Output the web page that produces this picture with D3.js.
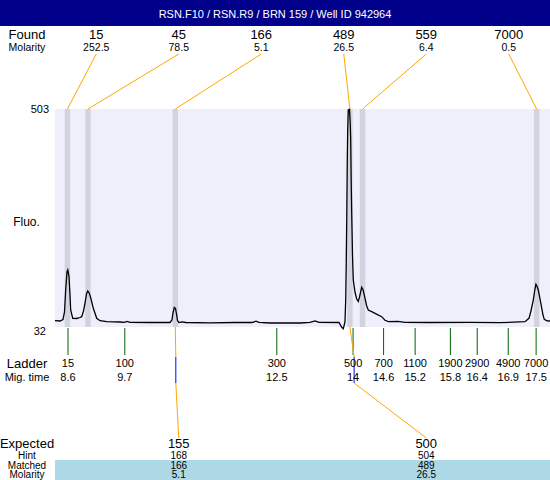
<!DOCTYPE html>
<html>
<head>
<meta charset="utf-8">
<script src="https://cdn.jsdelivr.net/npm/d3@7"></script>
<style>
  html, body { margin: 0; padding: 0; background: #fff; }
  svg { display: block; font-family: "Liberation Sans", Arial, sans-serif; }
</style>
</head>
<body>
<svg id="chart" width="550" height="480"></svg>
<script>
const titleText = "RSN.F10 / RSN.R9 / BRN 159 / Well ID 942964";
const foundSizes = ["15", "45", "166", "489", "559", "7000"];
const foundMolarity = ["252.5", "78.5", "5.1", "26.5", "6.4", "0.5"];
const peakTimes = [8.59, 8.98, 10.64, 13.96, 14.20, 17.51];

const ladderSizes = ["15", "100", "300", "500", "700", "1100", "1900", "2900", "4900", "7000"];
const ladderTimes = [8.60, 9.68, 12.57, 14.02, 14.60, 15.20, 15.87, 16.38, 16.97, 17.50];
const ladderTimeLabels = ["8.6", "9.7", "12.5", "14", "14.6", "15.2", "15.8", "16.4", "16.9", "17.5"];

const expectedSizes = ["155", "500"];
const expectedHint = ["168", "504"];
const expectedMatched = ["166", "489"];
const expectedMolarity = ["5.1", "26.5"];
const expectedTimes = [10.65, 14.04];
const matchedPeakIndex = [2, 3];

const timeDomain = [8.353, 17.764];
const fluoDomain = [32, 503];

const traceTime = [8.353, 8.448, 8.505, 8.534, 8.556, 8.581, 8.596, 8.619, 8.638, 8.651,
  8.690, 8.766, 8.828, 8.861, 8.895, 8.923, 8.952, 8.975, 8.999, 9.028,
  9.081, 9.146, 9.209, 9.336, 9.589, 9.665, 9.722, 9.779, 10.159, 10.539,
  10.577, 10.596, 10.621, 10.644, 10.663, 10.682, 10.710, 10.767, 10.843, 11.300,
  11.775, 12.098, 12.174, 12.231, 12.440, 13.011, 13.201, 13.296, 13.372, 13.752,
  13.804, 13.834, 13.866, 13.880, 13.891, 13.899, 13.910, 13.918, 13.929, 13.952,
  13.967, 13.975, 13.984, 13.994, 14.009, 14.024, 14.056, 14.089, 14.119, 14.142,
  14.184, 14.212, 14.233, 14.279, 14.309, 14.374, 14.437, 14.564, 14.627, 14.690,
  14.874, 15.007, 15.482, 16.243, 16.813, 17.288, 17.364, 17.402, 17.446, 17.478,
  17.497, 17.516, 17.541, 17.574, 17.606, 17.631, 17.655, 17.707, 17.764];
const traceFluo = [45.6, 45.0, 48.2, 64.4, 111.9, 150.8, 155.2, 140.7, 101.1, 68.7,
  50.8, 50.4, 52.5, 54.3, 66.6, 83.2, 103.3, 109.8, 106.5, 96.8,
  72.4, 50.8, 45.6, 43.5, 42.8, 42.2, 43.9, 42.2, 41.7, 41.7,
  47.1, 62.2, 74.1, 72.0, 60.1, 46.0, 41.7, 43.2, 41.7, 41.1,
  41.7, 41.7, 44.5, 42.2, 40.6, 40.6, 42.2, 45.0, 42.2, 41.7,
  31.4, 28.3, 42.8, 90.3, 176.8, 256.7, 392.8, 457.6, 500.9, 503,
  468.4, 436, 349.6, 278.3, 187.6, 133.5, 107.6, 92.5, 87.1, 96.8,
  117.8, 111.9, 101.1, 77.4, 68.7, 65.1, 61.6, 54.3, 46.5, 43.5,
  44.3, 42.2, 41.7, 42.2, 41.3, 43.5, 50.8, 66.6, 90.3, 114.1,
  124.3, 120.6, 111.9, 92.5, 73.1, 57.9, 48.6, 45.4, 45.0];

const W = 550, H = 480;
const plotLeft = 55, plotRight = 550, plotTop = 109, plotBottom = 327;
const svg = d3.select("#chart");

const x = d3.scaleLinear().domain(timeDomain).range([plotLeft, plotRight]);
const y = d3.scaleLinear().domain(fluoDomain).range([plotBottom, plotTop]);
const foundBand = d3.scaleBand().domain(d3.range(foundSizes.length)).range([plotLeft, plotRight]);
const expBand = d3.scaleBand().domain(d3.range(expectedSizes.length)).range([plotLeft, plotRight]);
const fc = (s, i) => s(i) + s.bandwidth() / 2;

// header
svg.append("rect").attr("x", 0).attr("y", 0).attr("width", W).attr("height", 26).attr("fill", "#00008B");
svg.append("text").attr("x", 275).attr("y", 18).attr("text-anchor", "middle")
  .attr("fill", "#fff").attr("font-size", 11).text(titleText);

// plot background
svg.append("rect").attr("x", plotLeft).attr("y", plotTop)
  .attr("width", plotRight - plotLeft).attr("height", plotBottom - plotTop).attr("fill", "#EFEFFC");

// peak bands
const bandW = 5.5;
svg.selectAll("rect.peak").data(peakTimes).join("rect").attr("class", "peak")
  .attr("x", d => x(d) - bandW / 2).attr("y", plotTop)
  .attr("width", bandW).attr("height", plotBottom - plotTop).attr("fill", "#D3D3E0");

// trace
const traceData = traceTime.map((t, i) => [t, traceFluo[i]]);
svg.append("path").datum(traceData)
  .attr("d", d3.line().x(d => x(d[0])).y(d => y(d[1])))
  .attr("fill", "none").attr("stroke", "#000").attr("stroke-width", 1.3);

// found connector lines
svg.selectAll("line.found").data(peakTimes).join("line").attr("class", "found")
  .attr("x1", (d, i) => fc(foundBand, i)).attr("y1", 54)
  .attr("x2", d => x(d)).attr("y2", plotTop)
  .attr("stroke", "#FFA500").attr("stroke-width", 1);

// found labels
const leftX = 27;
svg.append("text").attr("x", leftX).attr("y", 38.5).attr("text-anchor", "middle").attr("font-size", 13).text("Found");
svg.append("text").attr("x", leftX).attr("y", 51).attr("text-anchor", "middle").attr("font-size", 10.5).text("Molarity");
svg.selectAll("text.fs").data(foundSizes).join("text").attr("class", "fs")
  .attr("x", (d, i) => fc(foundBand, i)).attr("y", 38.5).attr("text-anchor", "middle")
  .attr("font-size", 13).text(d => d);
svg.selectAll("text.fm").data(foundMolarity).join("text").attr("class", "fm")
  .attr("x", (d, i) => fc(foundBand, i)).attr("y", 51).attr("text-anchor", "middle")
  .attr("font-size", 10.5).text(d => d);

// y labels
svg.append("text").attr("x", 49).attr("y", y(fluoDomain[1]) + 4).attr("text-anchor", "end").attr("font-size", 11).text(fluoDomain[1]);
svg.append("text").attr("x", 46).attr("y", y(fluoDomain[0]) + 8).attr("text-anchor", "end").attr("font-size", 11).text(fluoDomain[0]);
svg.append("text").attr("x", 26.5).attr("y", 226).attr("text-anchor", "middle").attr("font-size", 12).text("Fluo.");

// ladder ticks
svg.selectAll("line.lad").data(ladderTimes).join("line").attr("class", "lad")
  .attr("x1", d => x(d)).attr("x2", d => x(d)).attr("y1", plotBottom + 1).attr("y2", 355)
  .attr("stroke", "#006400").attr("stroke-width", 1);

// expected connectors
expectedTimes.forEach((t, i) => {
  const px = x(peakTimes[matchedPeakIndex[i]]);
  const ex = x(t);
  const tx = fc(expBand, i);
  svg.append("line").attr("x1", px).attr("y1", plotBottom).attr("x2", ex).attr("y2", 357)
    .attr("stroke", "#FFA500");
  svg.append("line").attr("x1", ex).attr("y1", 357).attr("x2", ex).attr("y2", 383)
    .attr("stroke", "#0000FF");
  svg.append("line").attr("x1", ex).attr("y1", 383).attr("x2", tx).attr("y2", 438)
    .attr("stroke", "#FFA500");
});

// ladder labels
svg.append("text").attr("x", leftX).attr("y", 368).attr("text-anchor", "middle").attr("font-size", 13).text("Ladder");
svg.append("text").attr("x", leftX).attr("y", 381).attr("text-anchor", "middle").attr("font-size", 11).text("Mig. time");
svg.selectAll("text.ls").data(ladderSizes).join("text").attr("class", "ls")
  .attr("x", (d, i) => x(ladderTimes[i])).attr("y", 367).attr("text-anchor", "middle")
  .attr("font-size", 11).text(d => d);
svg.selectAll("text.lt").data(ladderTimeLabels).join("text").attr("class", "lt")
  .attr("x", (d, i) => x(ladderTimes[i])).attr("y", 381).attr("text-anchor", "middle")
  .attr("font-size", 11).text(d => d);

// expected table
svg.append("rect").attr("x", plotLeft).attr("y", 460).attr("width", plotRight - plotLeft).attr("height", 20).attr("fill", "#ADD8E6");
svg.append("text").attr("x", leftX).attr("y", 448).attr("text-anchor", "middle").attr("font-size", 13).text("Expected");
svg.append("text").attr("x", leftX).attr("y", 458.5).attr("text-anchor", "middle").attr("font-size", 10).text("Hint");
svg.append("text").attr("x", leftX).attr("y", 468.5).attr("text-anchor", "middle").attr("font-size", 10).text("Matched");
svg.append("text").attr("x", leftX).attr("y", 478).attr("text-anchor", "middle").attr("font-size", 10).text("Molarity");
[[expectedSizes, 448, 13], [expectedHint, 458.5, 10], [expectedMatched, 468.5, 10], [expectedMolarity, 478, 10]]
  .forEach(([arr, yy, fs], k) => {
    svg.selectAll("text.ex" + k).data(arr).join("text").attr("class", "ex" + k)
      .attr("x", (d, i) => fc(expBand, i)).attr("y", yy).attr("text-anchor", "middle")
      .attr("font-size", fs).text(d => d);
  });
</script>
</body>
</html>
